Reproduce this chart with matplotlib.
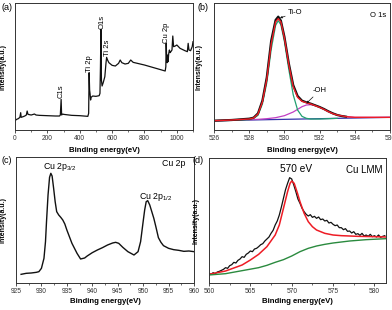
import matplotlib
matplotlib.use("Agg")
import matplotlib.pyplot as plt
from matplotlib.ticker import MultipleLocator

plt.rcParams['font.family'] = ['Liberation Sans', 'DejaVu Sans']
plt.rcParams['mathtext.fontset'] = 'custom'
plt.rcParams['mathtext.rm'] = 'Liberation Sans'
plt.rcParams['mathtext.it'] = 'Liberation Sans:italic'
plt.rcParams['mathtext.bf'] = 'Liberation Sans:bold'

#%% data (intensities in arbitrary units)
# (a) survey
a_be = [0, 10, 20, 30, 35, 38, 50, 60, 70, 75, 80, 100, 120, 130, 150, 200, 250, 275, 280, 285,
        288, 295, 300, 350, 400, 450, 455, 458, 461, 464, 467, 470, 480, 500, 520, 525, 528, 531,
        534, 538, 545, 555, 562, 566, 572, 580, 600, 620, 640, 650, 660, 680, 700, 715, 730, 800,
        850, 900, 928, 932, 934, 937, 940, 943, 946, 950, 954, 958, 963, 970, 975, 980, 990, 1000,
        1020, 1050, 1065, 1070, 1075, 1085, 1095, 1100]
a_int = [28, 32, 34, 38, 52, 38, 40, 42, 45, 57, 47, 45, 48, 45, 44, 43, 42, 42, 45, 92,
         45, 48, 47, 44, 43, 41, 50, 172, 120, 108, 90, 98, 102, 101, 103, 110, 190, 302,
         150, 132, 142, 160, 200, 218, 210, 202, 194, 192, 200, 210, 202, 198, 200, 210, 203, 195,
         188, 181, 177, 190, 260, 220, 202, 225, 205, 230, 240, 232, 235, 240, 282, 250, 252, 255,
         245, 238, 235, 260, 240, 238, 250, 265]
a_peaks = ['C1s', 'Ti 2p', 'O1s', 'Ti 2s', 'Cu 2p']
a_peak_be = [284, 460, 536, 571, 934]
a_peak_int = [95, 175, 302, 222, 260]

# (b) O 1s
b_be = [526, 526.5, 527, 527.5, 528, 528.25, 528.5, 528.75, 529, 529.25, 529.5, 529.65, 529.8, 530,
        530.25, 530.5, 530.75, 531, 531.25, 531.5, 531.75, 532, 532.25, 532.5, 532.75, 533, 533.25,
        533.5]
b_data = [10, 11, 12, 14, 16, 19, 32, 70, 140, 250, 312, 322, 310, 262,
          182, 117, 84, 70, 65, 61, 56, 51, 45, 38, 32, 27, 24, 22]
b_fit_be = [526, 527, 528, 528.25, 528.5, 528.75, 529, 529.25, 529.5, 529.65, 529.8, 530, 530.25,
            530.5, 530.75, 531, 531.25, 531.5, 531.75, 532, 532.25, 532.5, 532.75, 533, 533.5, 534,
            535, 536]
b_fit = [10, 12, 15, 18, 30, 66, 134, 240, 306, 316, 306, 258, 178,
         112, 80, 68, 64, 60, 55, 50, 44, 37, 31, 27, 22, 20,
         20, 20]
b_tio_be = [526, 527, 528, 528.25, 528.5, 528.75, 529, 529.25, 529.5, 529.65, 529.8, 530, 530.25,
            530.5, 530.75, 531, 531.25, 531.5, 532, 533]
b_tio = [10, 11, 13, 17, 26, 60, 124, 224, 296, 310, 298, 248, 164,
         88, 42, 23, 17, 15, 15, 17]
b_oh_be = [526, 527, 528, 528.5, 529, 529.5, 530, 530.5, 530.75, 531, 531.25, 531.5, 531.75, 532,
           532.25, 532.5, 532.75, 533, 533.25, 533.5, 534, 535, 536]
b_oh = [10, 11, 13, 14, 16, 19, 25, 36, 44, 52, 57, 58, 56, 51,
        45, 38, 32, 27, 24, 22, 20, 20, 20]
b_base_be = [526, 536]
b_base = [10, 20]

# (c) Cu 2p
c_be = [926, 927, 928, 929, 929.5, 930, 930.5, 930.8, 931, 931.3, 931.6, 931.85, 932.1, 932.4,
        932.7, 933, 933.4, 933.8, 934.2, 934.6, 935, 935.5, 936, 937, 937.7, 938.5, 939, 940, 941,
        942, 943, 944, 944.6, 945.2, 946, 947, 948.2, 949, 949.5, 950, 950.3, 950.6, 950.9, 951.3,
        951.7, 952.1, 952.5, 953, 953.5, 954, 955, 956, 957, 958, 959, 960]
c_int = [27, 30, 31, 33, 35, 45, 75, 125, 185, 265, 318, 330, 322, 285,
         245, 215, 205, 198, 190, 178, 160, 140, 120, 90, 73, 76, 82, 92, 100,
         107, 115, 121, 123, 120, 108, 95, 85, 95, 125, 185, 220, 245, 248, 235,
         215, 195, 170, 137, 123, 113, 105, 101, 99, 96, 97, 95]

# (d) Cu LMM
d_be = [560, 560.25, 560.5, 560.75, 561, 561.25, 561.5, 561.75, 562, 562.25, 562.5, 562.75,
        563, 563.25, 563.5, 563.75, 564, 564.25, 564.5, 564.75, 565, 565.25, 565.5, 565.75,
        566, 566.25, 566.5, 566.75, 567, 567.25, 567.5, 567.75, 568, 568.25, 568.5, 568.75,
        569, 569.25, 569.5, 569.75, 570, 570.25, 570.5, 570.75, 571, 571.25, 571.5, 571.75,
        572, 572.25, 572.5, 572.75, 573, 573.25, 573.5, 573.75, 574, 574.25, 574.5, 574.75,
        575, 575.25, 575.5, 575.75, 576, 576.25, 576.5, 576.75, 577, 577.25, 577.5, 577.75,
        578, 578.25, 578.5, 578.75, 579, 579.25, 579.5, 579.75, 580, 580.25, 580.5, 580.75,
        581, 581.25]
d_data = [29, 26, 31, 28, 33, 35, 38, 41, 46, 44, 52, 55,
          62, 60, 68, 72, 79, 77, 86, 90, 96, 94, 102, 104,
          109, 115, 118, 126, 132, 138, 149, 158, 174, 186, 204, 228,
          254, 280, 299, 316, 312, 294, 274, 252, 239, 224, 214, 206,
          201, 205, 197, 200, 194, 198, 190, 192, 186, 188, 180, 182,
          176, 172, 174, 166, 166, 160, 163, 155, 156, 150, 154, 146,
          148, 143, 149, 141, 144, 140, 146, 139, 142, 138, 144, 137,
          140, 142]
d_fit_be = [560, 562, 564, 565, 566, 567, 568, 568.5, 569, 569.5, 569.8, 570, 570.3, 570.7, 571,
            571.5, 572, 572.5, 573, 574, 575, 576, 578, 580, 581.4]
d_fit = [26, 36, 54, 69, 86, 109, 144, 174, 224, 274, 299, 306, 299, 269, 244,
         209, 184, 169, 159, 149, 144, 142, 140, 139, 138]
d_bg_be = [560, 562, 564, 566, 567, 568, 569, 570, 571, 572, 573, 574, 575, 577, 579, 581.4]
d_bg = [24, 28, 37, 46, 53, 62, 70, 81, 94, 104, 111, 116, 120, 126, 130, 133]

#%% figure
fig = plt.figure(figsize=(3.92, 3.10), dpi=100)
ax_a = fig.add_axes([0.0383, 0.5806, 0.4541, 0.4097])
ax_b = fig.add_axes([0.5459, 0.5806, 0.4490, 0.4097])
ax_c = fig.add_axes([0.0408, 0.0871, 0.4541, 0.4065])
ax_d = fig.add_axes([0.5332, 0.0871, 0.4515, 0.4032])

def style(ax, major, minor, ylx, xly):
    for s in ax.spines.values():
        s.set_linewidth(0.7)
        s.set_color('#333333')
    ax.set_yticks([])
    ax.xaxis.set_major_locator(MultipleLocator(major))
    ax.xaxis.set_minor_locator(MultipleLocator(minor))
    ax.tick_params(axis='x', which='major', direction='out', length=2.2, width=0.6,
                   labelsize=4.8, pad=1.2, colors='#333333')
    ax.tick_params(axis='x', which='minor', direction='out', length=1.3, width=0.5, colors='#333333')
    ax.set_xlabel('Binding energy(eV)', fontsize=5.6, fontweight='bold')
    ax.set_ylabel('Intensity(a.u.)', fontsize=5.0, fontweight='bold')
    ax.xaxis.set_label_coords(0.5, xly)
    ax.yaxis.set_label_coords(ylx, 0.5)

# (a)
ax_a.plot(a_be, a_int, color='#111111', lw=0.9)
for name, x, y in zip(a_peaks, a_peak_be, a_peak_int):
    ax_a.text(x, y, name, rotation=90, ha='center', va='bottom', fontsize=5.5)
ax_a.set_xlim(0, 1100)
ax_a.set_ylim(0, 381)
style(ax_a, 200, 100, -0.048, -0.135)

# (b)
ax_b.plot(b_base_be, b_base, color='#3333aa', lw=0.9)
ax_b.plot(b_oh_be, b_oh, color='#c23ec2', lw=0.9)
ax_b.plot(b_tio_be, b_tio, color='#22a070', lw=0.9)
ax_b.plot(b_be, b_data, color='#111111', lw=1.6)
ax_b.plot(b_fit_be, b_fit, color='#ee1c25', lw=1.0)
ax_b.annotate('Ti-O', xy=(529.75, 318), xytext=(530.2, 334), fontsize=5.5, ha='left', va='center',
              arrowprops=dict(arrowstyle='-|>', lw=0.5, color='#111111', mutation_scale=3,
                              shrinkA=0, shrinkB=0))
ax_b.annotate('-OH', xy=(531.25, 62), xytext=(531.6, 100), fontsize=5.5, ha='left', va='center',
              arrowprops=dict(arrowstyle='-|>', lw=0.5, color='#111111', mutation_scale=3,
                              shrinkA=0, shrinkB=0))
ax_b.text(0.977, 0.905, 'O 1s', transform=ax_b.transAxes, ha='right', va='center', fontsize=5.5)
ax_b.set_xlim(526, 536)
ax_b.set_ylim(-18, 363)
style(ax_b, 2, 1, -0.066, -0.135)

# (c)
ax_c.plot(c_be, c_int, color='#111111', lw=1.0)
ax_c.text(0.152, 0.92, r'Cu 2p$_{\mathrm{3/2}}$', transform=ax_c.transAxes, ha='left', va='center',
          fontsize=6.3)
ax_c.text(0.69, 0.685, r'Cu 2p$_{\mathrm{1/2}}$', transform=ax_c.transAxes, ha='left', va='center',
          fontsize=6.3)
ax_c.text(0.949, 0.952, 'Cu 2p', transform=ax_c.transAxes, ha='right', va='center', fontsize=6.3)
ax_c.set_xlim(925, 960)
ax_c.set_ylim(1, 379)
style(ax_c, 5, 2.5, -0.052, -0.119)

# (d)
ax_d.plot(d_be, d_data, color='#111111', lw=0.9)
ax_d.plot(d_fit_be, d_fit, color='#ee1c25', lw=1.1)
ax_d.plot(d_bg_be, d_bg, color='#2a8a3e', lw=1.0)
ax_d.text(0.494, 0.912, '570 eV', transform=ax_d.transAxes, ha='center', va='center', fontsize=7.3)
ax_d.text(0.983, 0.904, 'Cu LMM', transform=ax_d.transAxes, ha='right', va='center', fontsize=7.0)
ax_d.set_xlim(560, 581.4)
ax_d.set_ylim(0, 375)
style(ax_d, 5, 2.5, -0.056, -0.119)

# panel letters
for lbl, x, y in [('(a)', 0.005, 0.977), ('(b)', 0.504, 0.977), ('(c)', 0.005, 0.481), ('(d)', 0.492, 0.481)]:
    fig.text(x, y, lbl, fontsize=6.5, ha='left', va='center')

fig.savefig('out.png', dpi=100)
